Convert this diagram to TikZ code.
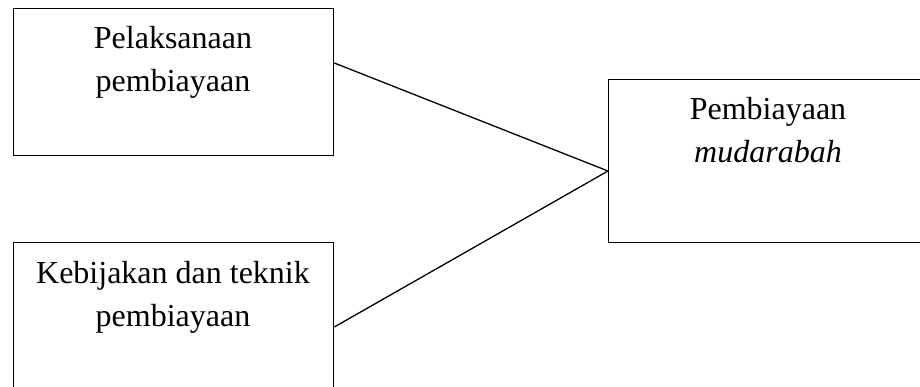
\documentclass[tikz,border=0pt]{standalone}
\usepackage{fontspec}
\setmainfont{Liberation Serif}
\begin{document}
\begin{tikzpicture}[x=1pt,y=-1pt,
  box/.style={draw=black,line width=1.3pt,fill=none},
  lbl/.style={anchor=base,inner sep=0pt,font=\fontsize{32}{43}\selectfont},
  conn/.style={draw=black,line width=1.3pt}]
\useasboundingbox (0,0) rectangle (920,387);
\clip (0,0) rectangle (920,387);
\node[box,minimum width=320pt,minimum height=147pt,anchor=north west] (b1) at (13,8) {};
\node[box,minimum width=320pt,minimum height=147pt,anchor=north west] (b2) at (13,242) {};
\node[box,minimum width=321pt,minimum height=163pt,anchor=north west] (b3) at (608,79) {};
\node[lbl] (t1a) at (173,49) {Pelaksanaan};
\node[lbl] (t1b) at (173,92) {pembiayaan};
\node[lbl] (t2a) at (173,283) {Kebijakan dan teknik};
\node[lbl] (t2b) at (173,326) {pembiayaan};
\node[lbl] (t3a) at (768,120) {Pembiayaan};
\node[lbl] (t3b) at (768,163) {\itshape mudarabah};
\coordinate (p1) at (b1.east |- 0,63);
\coordinate (p2) at (b2.east |- 0,327);
\coordinate (q) at (b3.west |- 0,171);
\draw[conn] (p1) -- (q) -- (p2);
\end{tikzpicture}
\end{document}
